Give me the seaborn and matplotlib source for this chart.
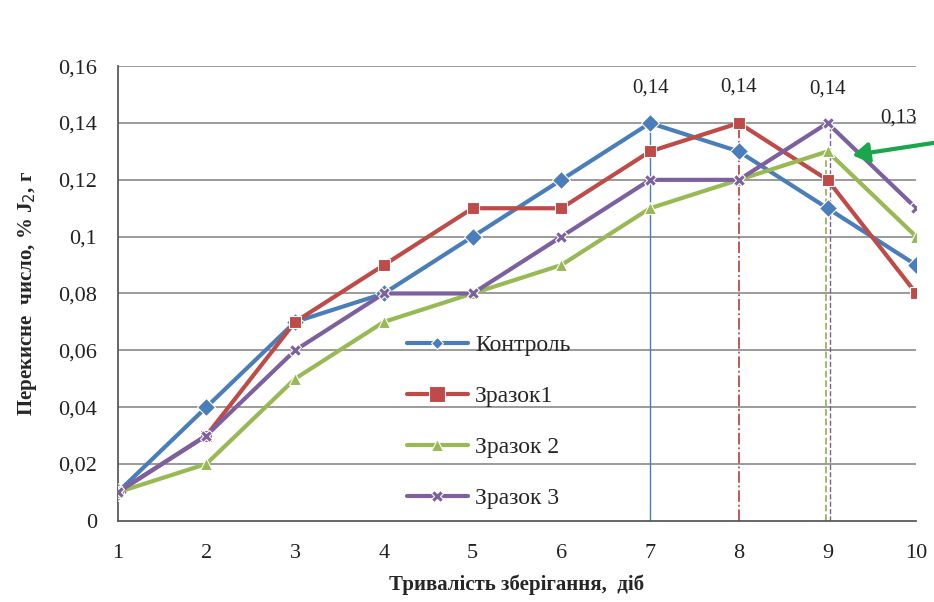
import matplotlib
matplotlib.use("Agg")
import matplotlib.pyplot as plt
import seaborn as sns
import pandas as pd

days = [1, 2, 3, 4, 5, 6, 7, 8, 9, 10]
series_names = ["Контроль", "Зразок1", "Зразок 2", "Зразок 3"]
kontrol = [0.01, 0.04, 0.07, 0.08, 0.10, 0.12, 0.14, 0.13, 0.11, 0.09]
zrazok1 = [0.01, 0.03, 0.07, 0.09, 0.11, 0.11, 0.13, 0.14, 0.12, 0.08]
zrazok2 = [0.01, 0.02, 0.05, 0.07, 0.08, 0.09, 0.11, 0.12, 0.13, 0.10]
zrazok3 = [0.01, 0.03, 0.06, 0.08, 0.08, 0.10, 0.12, 0.12, 0.14, 0.11]
yticks = [0, 0.02, 0.04, 0.06, 0.08, 0.1, 0.12, 0.14, 0.16]
ytick_labels = ["0", "0,02", "0,04", "0,06", "0,08", "0,1", "0,12", "0,14", "0,16"]
peak_days = [7, 8, 8.98, 9.03]
peak_values = [0.14, 0.14, 0.13, 0.14]
peak_labels = [(7, 0.1523, "0,14"), (8, 0.1525, "0,14"), (9, 0.152, "0,14"), (9.8, 0.1418, "0,13")]

colors = ["#4A7EBB", "#BE4B48", "#98B954", "#7D60A0"]

df = pd.DataFrame({
    "day": days * 4,
    "value": kontrol + zrazok1 + zrazok2 + zrazok3,
    "series": sum([[n] * len(days) for n in series_names], []),
})

sns.set_theme(style="white")
plt.rcParams["font.family"] = ["Liberation Serif", "DejaVu Serif"]

fig = plt.figure(figsize=(9.34, 6.02), dpi=100)
ax = fig.add_axes([0.126, 0.135, 0.855, 0.755])

ax.set_xlim(1, 10)
ax.set_ylim(0, 0.16)
ax.set_yticks(yticks)
ax.set_yticklabels(ytick_labels)
ax.set_xticks(days)
ax.set_xticklabels([str(d) for d in days])
for y in yticks[1:]:
    ax.axhline(y, color="#8a8a8a", lw=1.2, zorder=0)

# vertical drop lines
styles = [dict(ls="-", lw=1.0), dict(ls="-.", lw=1.3), dict(ls="--", lw=1.3), dict(ls="--", lw=1.0)]
for xd, yv, c, st in zip(peak_days, peak_values, colors, styles):
    ax.plot([xd, xd], [0, yv], color=c, zorder=1, **st)

markers = {"Контроль": "D", "Зразок1": "s", "Зразок 2": "^", "Зразок 3": "X"}
sizes = {"Контроль": 6, "Зразок1": 11, "Зразок 2": 9, "Зразок 3": 9}
sns.lineplot(data=df, x="day", y="value", hue="series", style="series",
             markers=markers, dashes=False, palette=colors, ax=ax,
             linewidth=3, markersize=9, markeredgewidth=0.8, zorder=3)
for line, n in zip(ax.get_lines()[-4:], series_names):
    line.set_markersize(sizes[n])
    line.set_clip_on(False)

for xd, yy, txt in peak_labels:
    ax.text(xd, yy, txt, ha="center", va="center", fontsize=15, color="#222222")

ax.annotate("", xy=(9.25, 0.1285), xytext=(10.3, 0.1335),
            arrowprops=dict(arrowstyle="-|>,head_length=0.8,head_width=0.5",
                            color="#1aa64a", lw=3), annotation_clip=False)

leg = ax.legend(loc="upper left", bbox_to_anchor=(0.35, 0.43), frameon=False,
                fontsize=17, labelspacing=1.25, handlelength=2.6, borderaxespad=0,
                handletextpad=0.3)

for s in ["top", "right"]:
    ax.spines[s].set_visible(False)
ax.spines["left"].set_color("#555555")
ax.spines["bottom"].set_color("#555555")
ax.tick_params(axis="both", labelsize=16, colors="#222222", length=5, width=1,
               direction="out", pad=12)
ax.tick_params(axis="y", pad=10)
ax.set_xlabel("Тривалість зберігання,  діб", fontsize=15, fontweight="bold", labelpad=8)
ax.set_ylabel("Перекисне  число, % J$_2$, г", fontsize=15, fontweight="bold", labelpad=14)

fig.savefig("out.png", dpi=100)
